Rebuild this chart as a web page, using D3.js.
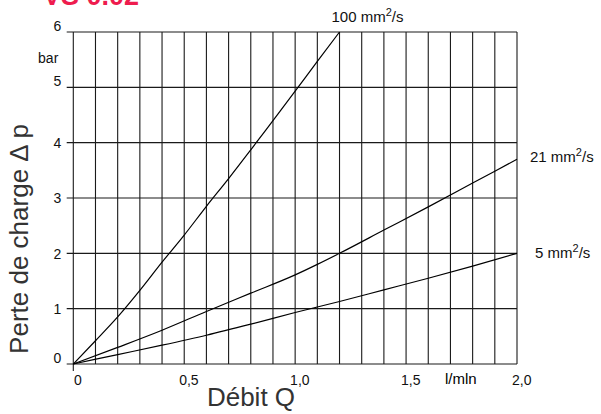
<!DOCTYPE html>
<html>
<head>
<meta charset="utf-8">
<script src="https://cdn.jsdelivr.net/npm/d3@7"></script>
<style>
  html, body { margin: 0; padding: 0; background: #fff; }
  svg { display: block; }
  text { font-family: "Liberation Sans", Arial, sans-serif; }
</style>
</head>
<body>
<svg id="chart" width="601" height="414"></svg>
<script>
// Pressure loss vs flow rate for three oil viscosities
const q100 = [0, 0.1, 0.2, 0.3, 0.4, 0.5, 0.6, 0.7, 0.8, 0.9, 1.0, 1.1, 1.2];
const p100 = [0, 0.42, 0.85, 1.33, 1.84, 2.33, 2.85, 3.35, 3.87, 4.40, 4.93, 5.47, 6.0];

const q21 = [0, 0.2, 0.4, 0.6, 0.8, 1.0, 1.1, 1.2, 1.4, 1.6, 1.8, 2.0];
const p21 = [0, 0.30, 0.61, 0.95, 1.28, 1.61, 1.80, 2.0, 2.42, 2.84, 3.27, 3.70];

const q5 = [0, 0.2, 0.4, 0.6, 0.8, 1.0, 1.2, 1.4, 1.6, 1.8, 2.0];
const p5 = [0, 0.17, 0.34, 0.52, 0.72, 0.93, 1.13, 1.34, 1.55, 1.77, 2.0];

const seriesNames = ["100", "21", "5"];
const xTicks = [0, 0.5, 1.0, 1.5, 2.0];
const xTickLabels = ["0", "0,5", "1,0", "1,5", "2,0"];
const yTicks = [0, 1, 2, 3, 4, 5, 6];
const xUnit = "l/mln";
const yUnit = "bar";
const xTitle = "Débit Q";
const yTitle = "Perte de charge Δ p";
const heading = "VS 0.02";

const svg = d3.select("#chart");

const x = d3.scaleLinear().domain([0, 2]).range([73.3, 517]);
const y = d3.scaleLinear().domain([0, 6]).range([364, 32]);

// red heading, mostly above the top edge
svg.append("text")
  .attr("x", 43).attr("y", 5)
  .attr("font-size", 27).attr("font-weight", "bold")
  .attr("fill", "#ee1c4e")
  .text(heading);

// vertical grid every 0.1
const grid = svg.append("g").attr("stroke", "#1a1a1a").attr("stroke-width", 1.1);
d3.range(0, 21).forEach(i => {
  const v = i / 10;
  grid.append("line")
    .attr("x1", x(v)).attr("x2", x(v))
    .attr("y1", y(6)).attr("y2", i === 0 ? y(0) + 7 : y(0));
});
// horizontal grid with tick stubs to the left
yTicks.forEach(v => {
  grid.append("line")
    .attr("x1", x(0) - 6.6).attr("x2", x(2))
    .attr("y1", y(v)).attr("y2", y(v));
});

// y tick labels
const yAxis = d3.axisLeft(y).tickValues(yTicks).tickSize(0).tickPadding(12).tickFormat(d3.format("d"));
const gy = svg.append("g").attr("transform", `translate(${x(0)},0)`).call(yAxis);
gy.select(".domain").remove();
gy.selectAll("text")
  .attr("font-family", "Liberation Sans, Arial, sans-serif")
  .attr("font-size", 14).attr("fill", "#111")
  .attr("dy", d => (d === 0 || d >= 5) ? "-0.1em" : "0.34em");

// x tick labels
const xAxis = d3.axisBottom(x).tickValues(xTicks).tickSize(0).tickPadding(11)
  .tickFormat((d, i) => xTickLabels[i]);
const gx = svg.append("g").attr("transform", `translate(0,${y(0)})`).call(xAxis);
gx.select(".domain").remove();
gx.selectAll("text")
  .attr("font-family", "Liberation Sans, Arial, sans-serif")
  .attr("font-size", 14).attr("fill", "#111")
  .attr("dx", "0.3em");

// units
svg.append("text").attr("x", x(0) - 15).attr("y", 63)
  .attr("text-anchor", "end").attr("font-size", 14).attr("fill", "#111").text(yUnit);
svg.append("text").attr("x", 445).attr("y", y(0) + 20)
  .attr("font-size", 15).attr("fill", "#000").text(xUnit);

// axis titles
svg.append("text")
  .attr("x", 251).attr("y", 406)
  .attr("text-anchor", "middle").attr("font-size", 26).attr("fill", "#333")
  .text(xTitle);
svg.append("text")
  .attr("transform", "translate(28,239) rotate(-90)")
  .attr("text-anchor", "middle").attr("font-size", 26).attr("fill", "#333")
  .text(yTitle);

// curves
const line = d3.line().x(d => x(d[0])).y(d => y(d[1])).curve(d3.curveMonotoneX);
const curves = [
  d3.zip(q100, p100),
  d3.zip(q21, p21),
  d3.zip(q5, p5)
];
svg.append("g").selectAll("path").data(curves).join("path")
  .attr("d", line)
  .attr("fill", "none").attr("stroke", "#000").attr("stroke-width", 1.2);

// curve labels
function viscLabel(name, px, py) {
  const t = svg.append("text").attr("x", px).attr("y", py)
    .attr("font-size", 15).attr("fill", "#111");
  t.append("tspan").text(name + " mm");
  t.append("tspan").attr("font-size", 11).attr("dy", -6).text("2");
  t.append("tspan").attr("dy", 6).text("/s");
}
viscLabel(seriesNames[0], x(1.2) - 8, y(6) - 10);
viscLabel(seriesNames[1], x(2) + 13, y(p21[p21.length - 1]) + 3);
viscLabel(seriesNames[2], x(2) + 18, y(p5[p5.length - 1]) + 5);
</script>
</body>
</html>
